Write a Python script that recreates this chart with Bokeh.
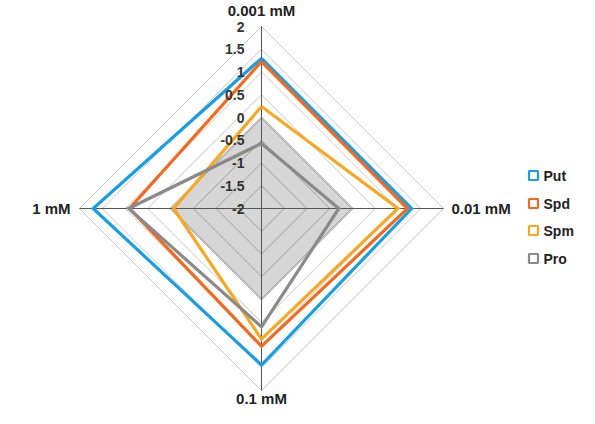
from bokeh.plotting import figure
from bokeh.models import Range1d
from bokeh.core.properties import value
from bokeh.embed import file_html
from bokeh.resources import INLINE
import numpy as np

# ---- data ----
axes_labels = ["0.001 mM", "0.01 mM", "0.1 mM", "1 mM"]   # top, right, bottom, left
series_names = ["Put", "Spd", "Spm", "Pro"]
put = [1.3, 1.3, 1.44, 1.7]
spd = [1.23, 1.21, 1.03, 0.9]
spm = [0.24, 1.0, 0.87, -0.07]
pro = [-0.57, -0.3, 0.6, 0.92]
tick_vals = [-2, -1.5, -1, -0.5, 0, 0.5, 1, 1.5, 2]
tick_labels = ["-2", "-1.5", "-1", "-0.5", "0", "0.5", "1", "1.5", "2"]
shade_level = 0
vmin = -2

colors = ["#1a9ee2", "#f26a1f", "#f7a823", "#8a8a8a"]
all_series = [put, spd, spm, pro]

W, H = 579, 408
px = 45.5  # pixels per unit
cx, cy = 261, 208

def X(xp):
    return (xp - cx) / px

def Y(yp):
    return (cy - yp) / px

p = figure(width=W, height=H, output_backend="svg", toolbar_location=None,
           x_range=Range1d(X(0), X(W)), y_range=Range1d(Y(H), Y(0)),
           min_border=0, outline_line_color=None)
p.axis.visible = False
p.grid.visible = False
p.background_fill_color = "white"

# directions: top, right, bottom, left
dx = np.array([0, 1, 0, -1])
dy = np.array([1, 0, -1, 0])

def poly(vals):
    r = np.array(vals) - vmin
    xs = list(r * dx) + [r[0] * dx[0]]
    ys = list(r * dy) + [r[0] * dy[0]]
    return xs, ys

# shaded inner area
sx, sy = poly([shade_level] * 4)
p.patch(sx[:-1], sy[:-1], fill_color="#d6d6d6", line_color="#8c8c8c", line_width=1.5)

# grid rings
for t in tick_vals[1:]:
    gx, gy = poly([t] * 4)
    col = "#a0a0a0" if t < shade_level else "#c8c8c8"
    p.line(gx, gy, line_color=col, line_width=1)

# axis spokes
R = tick_vals[-1] - vmin
p.segment(x0=[0, -R], y0=[-R, 0], x1=[0, R], y1=[R, 0], line_color="#555555", line_width=1)

# series
for vals, c in zip(all_series, colors):
    lx, ly = poly(vals)
    p.line(lx, ly, line_color=c, line_width=3.2, line_join="miter")

font = value("Liberation Sans")

# tick labels
p.text(x=[X(244)] * len(tick_vals), y=[t - vmin for t in tick_vals], text=tick_labels,
       text_align="right", text_baseline="middle", text_font=font,
       text_font_style="bold", text_font_size="14px", text_color="#333333")

# axis category labels
lab_kw = dict(text_font=font, text_font_style="bold", text_font_size="15px",
              text_color="#222222", text_baseline="middle")
p.text(x=[0], y=[Y(10)], text=[axes_labels[0]], text_align="center", **lab_kw)
p.text(x=[X(451)], y=[0], text=[axes_labels[1]], text_align="left", **lab_kw)
p.text(x=[0], y=[Y(398)], text=[axes_labels[2]], text_align="center", **lab_kw)
p.text(x=[X(70)], y=[0], text=[axes_labels[3]], text_align="right", **lab_kw)

# legend
leg_y = [Y(v) for v in (175, 203, 230, 258)]
p.scatter(x=[X(533)] * 4, y=leg_y, marker="square", size=9, fill_color="white",
          line_color=colors, line_width=2.2)
p.text(x=[X(543)] * 4, y=leg_y, text=series_names, text_align="left", text_baseline="middle",
       text_font=font, text_font_style="bold", text_font_size="14px", text_color="#222222")

open("out.html", "w").write(file_html(p, INLINE))
